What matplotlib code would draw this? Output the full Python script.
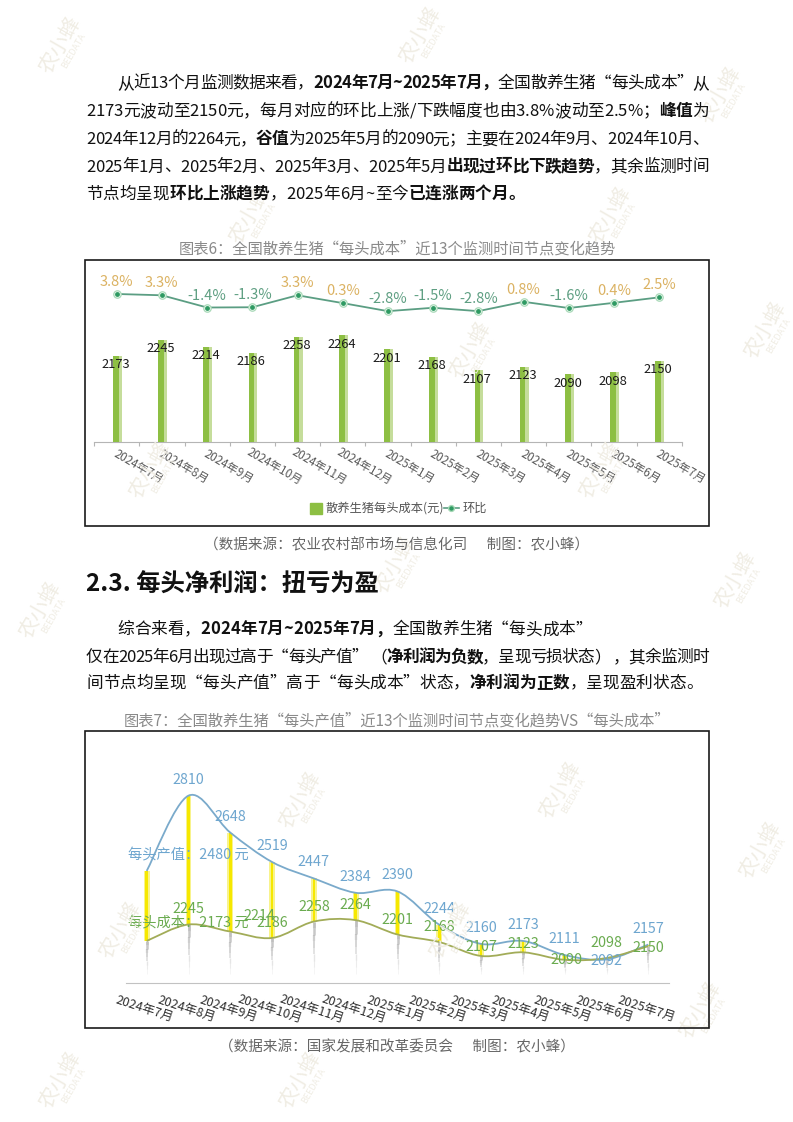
import numpy as np
import matplotlib
matplotlib.use("Agg")
import matplotlib.pyplot as plt
from matplotlib import font_manager
from matplotlib.font_manager import FontProperties
from matplotlib.ft2font import FT2Font
from matplotlib.path import Path
from matplotlib.patches import PathPatch, Rectangle
from matplotlib.lines import Line2D
from matplotlib.collections import LineCollection

plt.rcParams['font.family'] = ['Noto Sans CJK SC', 'DejaVu Sans']

# ---- data ----
months = ['2024年7月', '2024年8月', '2024年9月', '2024年10月', '2024年11月', '2024年12月',
          '2025年1月', '2025年2月', '2025年3月', '2025年4月', '2025年5月', '2025年6月', '2025年7月']
cost6 = [2173, 2245, 2214, 2186, 2258, 2264, 2201, 2168, 2107, 2123, 2090, 2098, 2150]
mom6 = [3.8, 3.3, -1.4, -1.3, 3.3, 0.3, -2.8, -1.5, -2.8, 0.8, -1.6, 0.4, 2.5]
value7 = [2480, 2810, 2648, 2519, 2447, 2384, 2390, 2244, 2160, 2173, 2111, 2092, 2157]
cost7 = [2173, 2245, 2214, 2186, 2258, 2264, 2201, 2168, 2107, 2123, 2090, 2098, 2150]

W, H = 793, 1122
P = 0.72  # points per pixel at dpi 100

fig = plt.figure(figsize=(W / 100, H / 100), dpi=100)
fig.patch.set_facecolor('white')


def fx(x):
    return x / W


def fy(y):
    return 1 - y / H


def axes_px(x0, y0, x1, y1):
    return fig.add_axes([x0 / W, 1 - y1 / H, (x1 - x0) / W, (y1 - y0) / H])


# font files for measuring advances
path_r = font_manager.findfont(FontProperties(family='Noto Sans CJK SC', weight='normal'))
path_b = font_manager.findfont(FontProperties(family='Noto Sans CJK SC', weight='bold'))
ftf = {False: FT2Font(path_r), True: FT2Font(path_b)}


def adv(c, bold, size):
    f = ftf[bold]
    f.set_size(size, 100)
    g = f.load_char(ord(c))
    return g.linearHoriAdvance / 65536


def draw_line(runs, x0, yc, size=12, x1=None, color='#111111'):
    chars = [(c, b) for t, b in runs for c in t]
    widths = [adv(c, b, size) for c, b in chars]
    gap = 0
    if x1 is not None:
        gap = (x1 - x0 - sum(widths)) / (len(chars) - 1)
    base = yc + 0.36 * size / P
    x = x0
    for (c, b), w in zip(chars, widths):
        fig.text(fx(x), fy(base), c, fontsize=size, color=color,
                 fontweight='bold' if b else 'normal', ha='left', va='baseline')
        x += w + gap


# ---- faint watermarks ----
wm_pos = [(60, 45), (420, 35), (720, 95), (250, 215), (610, 215), (470, 350), (150, 470),
          (600, 470), (765, 330), (40, 610), (395, 565), (735, 580), (300, 800), (560, 790),
          (760, 850), (120, 930), (450, 930), (700, 1010), (300, 1080), (60, 1080)]
for x, y in wm_pos:
    fig.text(fx(x), fy(y), '农小蜂', fontsize=15, color='#f0ede4', rotation=60,
             ha='center', va='center', zorder=0)
    fig.text(fx(x + 14), fy(y + 6), 'BEEDATA', fontsize=6.5, color='#f0ede4', rotation=60,
             ha='center', va='center', zorder=0)

# ---- paragraph 1 ----
R, B = False, True
para1 = [
    ([("从近13个月监测数据来看，", R), ("2024年7月~2025年7月，", B), ("全国散养生猪“每头成本”从", R)], 117.3, 81.7, 709),
    ([("2173元波动至2150元，每月对应的环比上涨/下跌幅度也由3.8%波动至2.5%；", R), ("峰值", B), ("为", R)], 86, 110, 709),
    ([("2024年12月的2264元，", R), ("谷值", B), ("为2025年5月的2090元；主要在2024年9月、2024年10月、", R)], 86, 138.3, 709),
    ([("2025年1月、2025年2月、2025年3月、2025年5月", R), ("出现过环比下跌趋势", B), ("，其余监测时间", R)], 86, 165.5, 709),
    ([("节点均呈现", R), ("环比上涨趋势", B), ("，2025年6月~至今", R), ("已连涨两个月。", B)], 86, 192.7, None),
]
for runs, x0, yc, x1 in para1:
    draw_line(runs, x0, yc, x1=x1)

fig.text(fx(397), fy(249.3), '图表6：全国散养生猪“每头成本”近13个监测时间节点变化趋势',
         fontsize=11, color='#8a8a8a', ha='center', va='center')
fig.text(fx(397), fy(545), '（数据来源：农业农村部市场与信息化司      制图：农小蜂）',
         fontsize=10.5, color='#666666', ha='center', va='center')

fig.text(fx(86), fy(583.3), '2.3. 每头净利润：扭亏为盈', fontsize=17.5, fontweight='bold',
         color='#111111', ha='left', va='center')

para2 = [
    ([("综合来看，", R), ("2024年7月~2025年7月，", B), ("全国散养生猪“每头成本”", R)], 117.3, 628.3, None),
    ([("仅在2025年6月出现过高于“每头产值” （", R), ("净利润为负数", B), ("，呈现亏损状态） ，其余监测时", R)], 86, 656, 709),
    ([("间节点均呈现“每头产值”高于“每头成本”状态，", R), ("净利润为正数", B), ("，呈现盈利状态。", R)], 86, 681.7, None),
]
for runs, x0, yc, x1 in para2:
    draw_line(runs, x0, yc, x1=x1)

fig.text(fx(397), fy(720.7), '图表7：全国散养生猪“每头产值”近13个监测时间节点变化趋势VS“每头成本”',
         fontsize=11, color='#8a8a8a', ha='center', va='center')
fig.text(fx(397), fy(1047), '（数据来源：国家发展和改革委员会      制图：农小蜂）',
         fontsize=10.5, color='#666666', ha='center', va='center')

# chart frames
for x0, y0, x1, y1 in [(85, 259.5, 709, 526), (85, 730.5, 709, 1028)]:
    fig.patches.append(Rectangle((fx(x0), fy(y1)), (x1 - x0) / W, (y1 - y0) / H, fill=False,
                                 edgecolor='#1a1a1a', lw=1.2, transform=fig.transFigure))

x = np.arange(len(months))

# ---- chart 6: bars + month-on-month line ----
ax6 = axes_px(94.1, 275, 681.7, 441.7)
ax6.set_xlim(-0.5, 12.5)
ax6.set_ylim(1788, 2534)
ax6.patch.set_alpha(0)
ax6.bar(x + 0.025, cost6, width=0.18, color='#c5dd9b', zorder=2)
ax6.bar(x - 0.02, cost6, width=0.12, color='#8dbf43', zorder=3)
for i, v in enumerate(cost6):
    ax6.annotate(str(v), (i, v), xytext=(-1 * P, -9 * P), textcoords='offset points',
                 ha='center', va='center', fontsize=9.3, color='#1a1a1a', zorder=5)
for s in ['top', 'left', 'right']:
    ax6.spines[s].set_visible(False)
ax6.spines['bottom'].set_color('#b5b5b5')
ax6.set_yticks([])
ax6.set_xticks(np.arange(-0.5, 13, 1))
ax6.set_xticklabels([])
ax6.tick_params(axis='x', length=4 * P, color='#b5b5b5', width=0.8)
for i, m in enumerate(months):
    ax6.annotate(m, (i, 0), xycoords=('data', 'axes fraction'), xytext=(22 * P, -25 * P),
                 textcoords='offset points', rotation=-30, rotation_mode='anchor',
                 ha='center', va='center', fontsize=8.3, color='#5a5a5a')

axl = axes_px(94.1, 275, 681.7, 441.7)
axl.set_xlim(-0.5, 12.5)
axl.set_ylim(-53.0, 11.1)
axl.axis('off')
axl.plot(x, mom6, color='#5b9e83', lw=1.3, zorder=3)
axl.scatter(x, mom6, s=(7.5 * P) ** 2, facecolor='#e8f6ec', edgecolor='#a6d8b6', lw=0.8, zorder=4)
axl.scatter(x, mom6, s=(3.4 * P) ** 2, color='#2e9a62', zorder=5)
for i, v in enumerate(mom6):
    axl.annotate(f'{v:.1f}%', (i, v), xytext=(0, 12 * P), textcoords='offset points',
                 ha='center', va='center', fontsize=10.5,
                 color='#dbb262' if v > 0 else '#5e9f82', zorder=6)

# legend
fig.patches.append(Rectangle((fx(310), fy(513.5)), 12 / W, 10.5 / H, color='#8dbf43',
                             transform=fig.transFigure))
fig.text(fx(325), fy(508.5), '散养生猪每头成本(元)', fontsize=8.8, color='#555555',
         ha='left', va='center')
fig.lines.append(Line2D([fx(444), fx(459)], [fy(508.5), fy(508.5)], color='#5b9e83', lw=1.2,
                        transform=fig.transFigure))
fig.lines.append(Line2D([fx(451.5)], [fy(508.5)], marker='o', ms=4.2, color='#2e9a62',
                        markeredgecolor='#a6d8b6', transform=fig.transFigure))
fig.text(fx(463), fy(508.5), '环比', fontsize=8.8, color='#555555', ha='left', va='center')


# ---- chart 7: value vs cost ----
def smooth_path(xs, ys):
    pts = np.column_stack([xs, ys]).astype(float)
    n = len(pts)
    verts = [pts[0]]
    codes = [Path.MOVETO]
    for i in range(n - 1):
        p0 = pts[i - 1] if i > 0 else pts[i]
        p1 = pts[i]
        p2 = pts[i + 1]
        p3 = pts[i + 2] if i + 2 < n else pts[i + 1]
        verts += [p1 + (p2 - p0) / 6, p2 - (p3 - p1) / 6, p2]
        codes += [Path.CURVE4] * 3
    return Path(verts, codes)


ax7 = axes_px(125.8, 745, 669.2, 982.7)
ax7.set_xlim(-0.5, 12.5)
ax7.set_ylim(1989.8, 3032)
ax7.patch.set_alpha(0)
for s in ['top', 'left', 'right']:
    ax7.spines[s].set_visible(False)
ax7.spines['bottom'].set_color('#c2c2c2')
ax7.set_xticks([])
ax7.set_yticks([])

val = np.array(value7)
cst = np.array(cost7)
ax7.bar(x, val - cst, bottom=cst, width=0.14, color='#f8f38c', zorder=2)
ax7.bar(x, val - cst, bottom=cst, width=0.065, color='#f6e800', zorder=3)

# fading grey spikes under the cost points
segs, lws, cols = [], [], []
for i, c in enumerate(cost7):
    steps = np.linspace(c, 2030, 9)
    for k in range(8):
        segs.append([(i, steps[k]), (i, steps[k + 1])])
        lws.append(2.0 - 0.2 * k)
        cols.append((0.55, 0.55, 0.55, 0.55 - 0.065 * k))
ax7.add_collection(LineCollection(segs, linewidths=lws, colors=cols, zorder=1))

ax7.add_patch(PathPatch(smooth_path(x, value7), fill=False, edgecolor='#7aaacb', lw=1.3, zorder=4))
ax7.add_patch(PathPatch(smooth_path(x, cost7), fill=False, edgecolor='#a2ac58', lw=1.3, zorder=4))

val_nudge = {11: (0, -2)}
cost_nudge = {2: (29, 16), 8: (0, 9), 9: (0, 8), 10: (2, 0), 12: (0, -2)}
for i in range(1, len(months)):
    dx, dy = val_nudge.get(i, (0, 16))
    ax7.annotate(str(value7[i]), (i, value7[i]), xytext=(dx * P, dy * P), textcoords='offset points',
                 ha='center', va='center', fontsize=10.3, color='#6ea6cf', zorder=6)
    dx, dy = cost_nudge.get(i, (0, 15))
    ax7.annotate(str(cost7[i]), (i, cost7[i]), xytext=(dx * P, dy * P), textcoords='offset points',
                 ha='center', va='center', fontsize=10.3, color='#6aab4f', zorder=6)

ax7.annotate(f'每头产值：{value7[0]} 元', (0, value7[0]), xytext=(-19 * P, 15 * P),
             textcoords='offset points', ha='left', va='center', fontsize=10.3, color='#6ea6cf', zorder=6)
ax7.annotate(f'每头成本：{cost7[0]} 元', (0, cost7[0]), xytext=(-19 * P, 17 * P),
             textcoords='offset points', ha='left', va='center', fontsize=10.3, color='#6aab4f', zorder=6)

for i, m in enumerate(months):
    ax7.annotate(m, (i, 0), xycoords=('data', 'axes fraction'), xytext=(-2 * P, -26 * P),
                 textcoords='offset points', rotation=-18, rotation_mode='anchor',
                 ha='center', va='center', fontsize=9, color='#2e2e2e')

fig.savefig('out.png', dpi=100)
